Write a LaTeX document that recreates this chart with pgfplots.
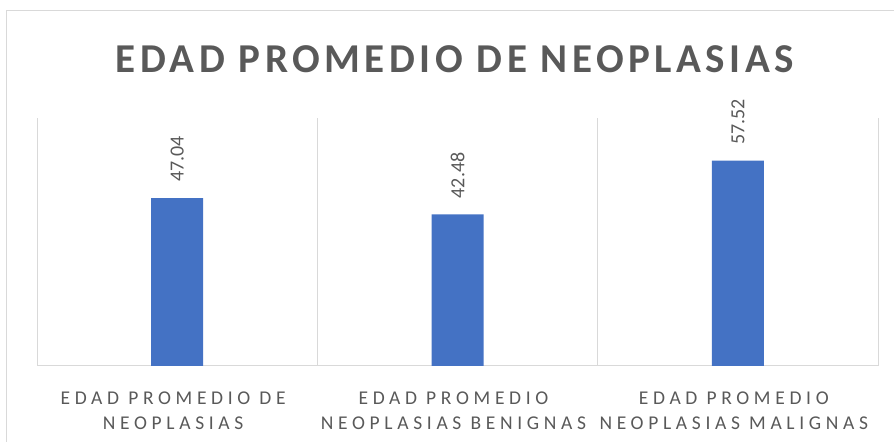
\documentclass[border=0pt]{standalone}
\usepackage{fontspec}
\setmainfont{Carlito}
\newfontfamily\titlefont[LetterSpace=11]{Carlito}
\newfontfamily\labelfont[LetterSpace=24]{Carlito}
\usepackage{pgfplots}
\pgfplotsset{compat=1.18}
\definecolor{txt}{HTML}{595959}
\definecolor{grd}{HTML}{D9D9D9}
\definecolor{barblue}{HTML}{4472C4}

\begin{document}
\begin{tikzpicture}[x=1bp,y=1bp]
\path[use as bounding box] (0,0) rectangle (894,442);
% chart area frame (cropped at right and bottom)
\draw[grd, line width=1bp] (6,0) -- (6,431) -- (894,431);
\node[font=\titlefont\bfseries\fontsize{41bp}{48bp}\selectfont, text=txt] at (455,383) {EDAD PROMEDIO DE NEOPLASIAS};
\begin{axis}[
  at={(37bp,76bp)}, anchor=south west,
  scale only axis, width=841bp, height=248bp,
  ymin=0, ymax=69.5, xmin=-0.5, xmax=2.5,
  axis y line=none, axis x line*=bottom,
  x axis line style={grd, line width=1bp},
  ybar, bar width=52bp,
  xtick={0,1,2},
  xticklabels={{EDAD PROMEDIO DE\\NEOPLASIAS},{EDAD PROMEDIO\\NEOPLASIAS BENIGNAS},{EDAD PROMEDIO\\NEOPLASIAS MALIGNAS}},
  xticklabel style={align=center, font=\labelfont\fontsize{19.5bp}{25bp}\selectfont, text=txt, yshift=-22bp, xshift=-4bp},
  minor xtick={-0.5,0.5,1.5,2.5},
  xminorgrids=true,
  minor grid style={grd, line width=1bp},
  major tick length=0pt, minor tick length=0pt,
  clip=false,
  nodes near coords,
  every node near coord/.append style={yshift=16bp, rotate=90, anchor=west, inner sep=0pt,
    font=\fontsize{20bp}{24bp}\selectfont, text=txt,
    /pgf/number format/fixed, /pgf/number format/fixed zerofill,
    /pgf/number format/precision=2, /pgf/number format/assume math mode=true},
]
\addplot[fill=barblue, draw=none] coordinates {(0,47.04) (1,42.48) (2,57.52)};
\end{axis}
\end{tikzpicture}
\end{document}
